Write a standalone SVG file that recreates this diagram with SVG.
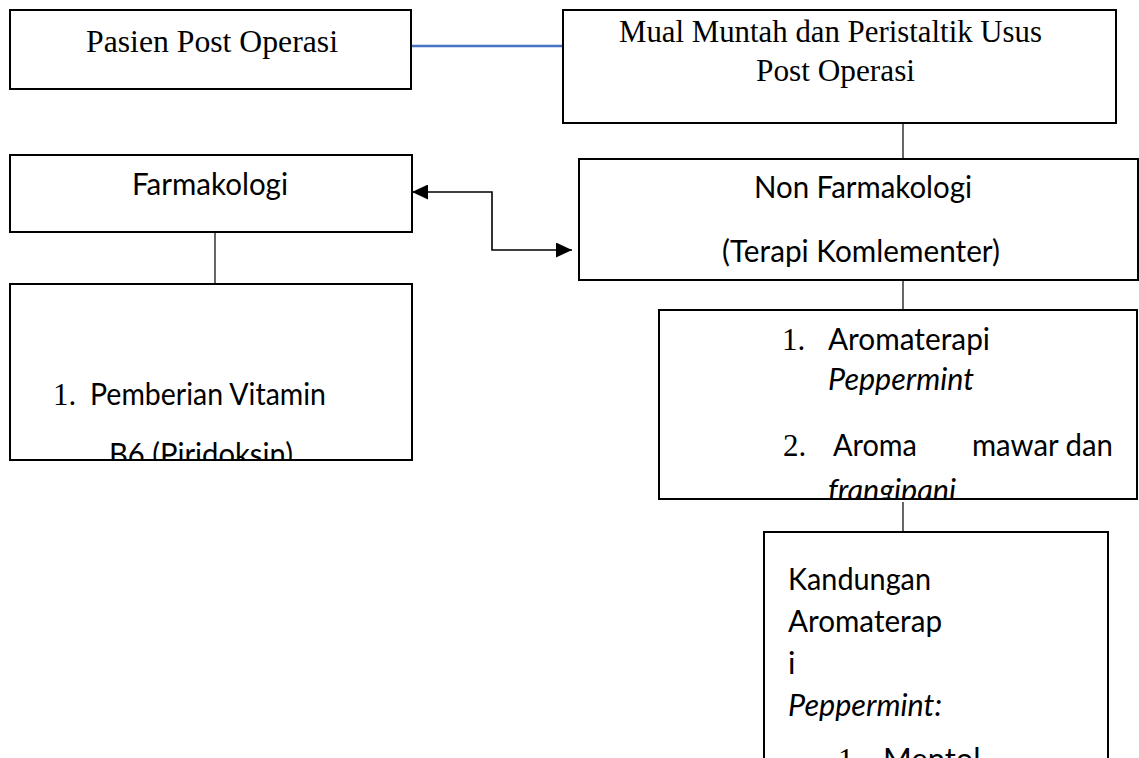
<svg xmlns="http://www.w3.org/2000/svg" width="1139" height="758" viewBox="0 0 1139 758">
<style>
.box{fill:#fff;stroke:#000;stroke-width:2}
.tm{font-family:"Liberation Serif","Times New Roman",serif;font-size:31px;fill:#000}
.sn{font-family:Lato,"Open Sans","Liberation Sans",sans-serif;font-size:31px;fill:#000}
.it{font-style:italic}
.con{fill:none;stroke:#000;stroke-width:1.2}
.blue{fill:none;stroke:#4472C4;stroke-width:2.6}
.arr{fill:none;stroke:#000;stroke-width:1.6}
</style>
<defs>
<marker id="ah" markerUnits="userSpaceOnUse" markerWidth="16" markerHeight="15" viewBox="0 0 16 15" refX="16" refY="7.5" orient="auto-start-reverse">
<path d="M0,0 L16,7.5 L0,15 z" fill="#000"/>
</marker>
<clipPath id="clipVit"><rect x="10" y="284" width="402" height="176"/></clipPath>
<clipPath id="clipAro"><rect x="659" y="310" width="478" height="189"/></clipPath>
</defs>
<g id="connectors">
<line class="blue" x1="411" y1="46" x2="563" y2="46"/>
<line class="con" x1="903" y1="123" x2="903" y2="159"/>
<line class="con" x1="215" y1="232" x2="215" y2="284"/>
<line class="con" x1="903" y1="275" x2="903" y2="310"/>
<line class="con" x1="903" y1="502" x2="903" y2="532"/>
<path class="arr" d="M412,192 H492 V250 H572" marker-start="url(#ah)" marker-end="url(#ah)"/>
</g>
<g id="node-pasien">
<rect class="box" x="10" y="10" width="401" height="79"/>
<text class="tm" x="86" y="52" textLength="252" lengthAdjust="spacingAndGlyphs">Pasien Post  Operasi</text>
</g>
<g id="node-mual">
<rect class="box" x="563" y="10" width="553" height="113"/>
<text class="tm" x="619" y="42" textLength="423" lengthAdjust="spacingAndGlyphs">Mual Muntah dan Peristaltik Usus</text>
<text class="tm" x="756" y="81" textLength="159" lengthAdjust="spacingAndGlyphs">Post Operasi</text>
</g>
<g id="node-farmakologi">
<rect class="box" x="10" y="155" width="402" height="77"/>
<text class="sn" x="132" y="195" textLength="156" lengthAdjust="spacingAndGlyphs">Farmakologi</text>
</g>
<g id="node-nonfarmakologi">
<rect class="box" x="579" y="159" width="559" height="121"/>
<text class="sn" x="754" y="198" textLength="218" lengthAdjust="spacingAndGlyphs">Non Farmakologi</text>
<text class="sn" x="722" y="262" textLength="278" lengthAdjust="spacingAndGlyphs">(Terapi Komlementer)</text>
</g>
<g id="node-vitamin">
<rect class="box" x="10" y="284" width="402" height="176"/>
<g clip-path="url(#clipVit)">
<text class="tm" x="53" y="405">1.</text>
<text class="sn" x="90" y="405" textLength="236" lengthAdjust="spacingAndGlyphs">Pemberian Vitamin</text>
<text class="sn" x="109" y="465" textLength="184" lengthAdjust="spacingAndGlyphs">B6 (Piridoksin)</text>
</g>
</g>
<g id="node-aromaterapi">
<rect class="box" x="659" y="310" width="478" height="189"/>
<g clip-path="url(#clipAro)">
<text class="tm" x="782" y="350">1.</text>
<text class="sn" x="828" y="350" textLength="162" lengthAdjust="spacingAndGlyphs">Aromaterapi</text>
<text class="sn it" x="828" y="390" textLength="146" lengthAdjust="spacingAndGlyphs">Peppermint</text>
<text class="tm" x="783" y="456">2.</text>
<text class="sn" x="833" y="456" textLength="84" lengthAdjust="spacingAndGlyphs">Aroma</text>
<text class="sn" x="972" y="456" textLength="141" lengthAdjust="spacingAndGlyphs">mawar dan</text>
<text class="sn it" x="828" y="501" textLength="128" lengthAdjust="spacingAndGlyphs">frangipani</text>
</g>
</g>
<g id="node-kandungan">
<rect class="box" x="764" y="532" width="344" height="280"/>
<text class="sn" x="788" y="590" textLength="143" lengthAdjust="spacingAndGlyphs">Kandungan</text>
<text class="sn" x="788" y="632" textLength="154" lengthAdjust="spacingAndGlyphs">Aromaterap</text>
<text class="sn" x="788" y="674">i</text>
<text class="sn it" x="788" y="716" textLength="154" lengthAdjust="spacingAndGlyphs">Peppermint:</text>
<text class="tm" x="838" y="770">1.</text>
<text class="sn" x="883" y="770">Mentol</text>
</g>
</svg>
